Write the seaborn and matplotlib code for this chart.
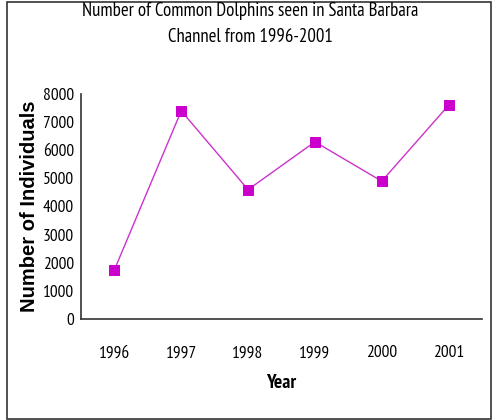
import matplotlib
matplotlib.use("Agg")
import matplotlib.pyplot as plt
import matplotlib.patches as patches
from matplotlib.ticker import FixedLocator
import seaborn as sns
import pandas as pd

years = ["1996", "1997", "1998", "1999", "2000", "2001"]
individuals = [1750, 7400, 4600, 6300, 4900, 7600]
y_ticks = [0, 1000, 2000, 3000, 4000, 5000, 6000, 7000, 8000]

sns.set_style("white")
narrow = ["PT Sans Narrow", "Archivo Narrow", "DejaVu Sans"]
plt.rcParams["font.family"] = narrow
plt.rcParams["text.color"] = "black"
plt.rcParams["axes.labelcolor"] = "black"
plt.rcParams["xtick.color"] = "black"
plt.rcParams["ytick.color"] = "black"

df = pd.DataFrame({"Year": years, "Individuals": individuals})

fig = plt.figure(figsize=(5.01, 4.2), dpi=100)
ax = fig.add_axes([81 / 501, 1 - 319 / 420, (482 - 81) / 501, (319 - 94) / 420])

sns.lineplot(data=df, x="Year", y="Individuals", ax=ax, color="#CC33CC",
             linewidth=1.0, marker="s", markersize=6.5,
             markerfacecolor="#CC00CC", markeredgecolor="#CC00CC", sort=False)

ax.set_xlim(-0.5, len(years) - 0.5)
ax.set_ylim(0, 8000)
ax.set_yticks(y_ticks)
ax.set_yticklabels([str(v) for v in y_ticks], fontsize=12.5)
ax.set_xticks(range(len(years)))
ax.set_xticklabels(years, fontsize=12.5)
ax.xaxis.set_minor_locator(FixedLocator([i + 0.5 for i in range(len(years))]))
ax.tick_params(axis="x", which="major", length=0, pad=19)
ax.tick_params(axis="x", which="minor", length=4, width=1, color="#333333", direction="out")
ax.tick_params(axis="y", which="major", length=3, width=1, color="#333333", direction="out", pad=2)

for side in ("top", "right"):
    ax.spines[side].set_visible(False)
for side in ("left", "bottom"):
    ax.spines[side].set_color("#333333")
    ax.spines[side].set_linewidth(1.2)

ax.set_xlabel("Year", fontsize=14, fontweight="bold", labelpad=9)
ax.set_ylabel("Number of Individuals", fontsize=14.5, fontweight="bold",
              family=["Liberation Sans", "DejaVu Sans"], labelpad=3)

fig.text(0.5, 1 - 24 / 420, "Number of Common Dolphins seen in Santa Barbara\nChannel from 1996-2001",
         ha="center", va="center", fontsize=13.5, fontweight="medium", linespacing=1.5)

# outer frame around the whole chart
frame = patches.Rectangle((7 / 501, 1 / 420), (491 - 7) / 501, (418 - 1) / 420,
                          transform=fig.transFigure, fill=False,
                          edgecolor="#333333", linewidth=1.2)
fig.patches.append(frame)

fig.savefig("out.png", dpi=100)
